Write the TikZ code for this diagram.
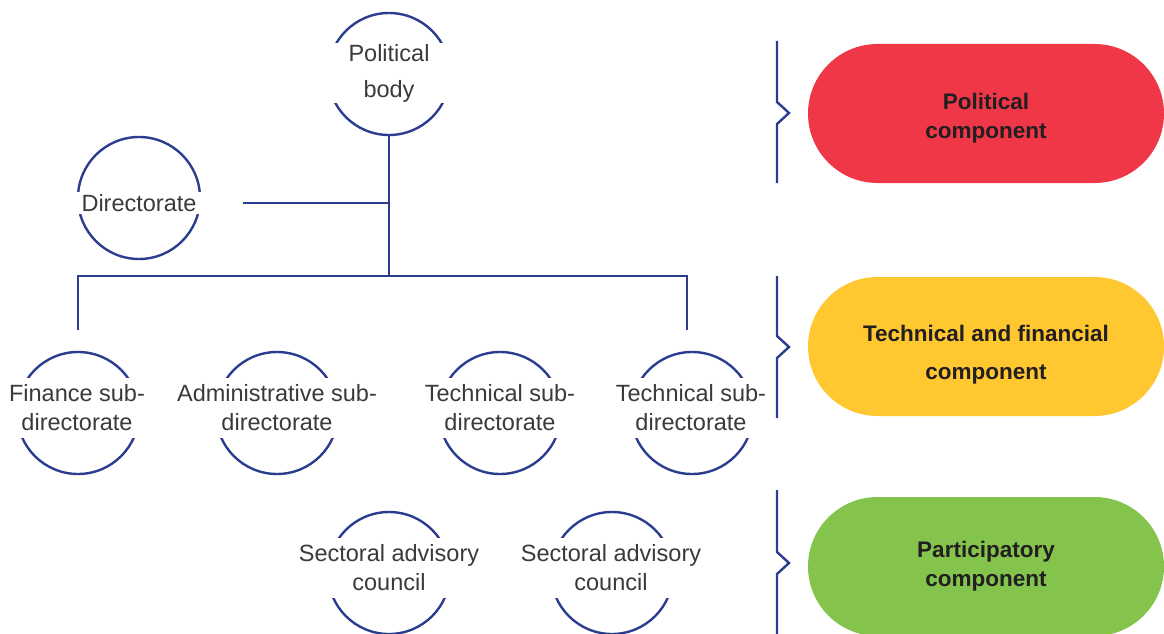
\documentclass[tikz,border=0pt]{standalone}
\usepackage{fontspec}
\setmainfont{Liberation Sans}
\usetikzlibrary{shapes.misc}
\definecolor{navy}{HTML}{2A3D8F}
\definecolor{pred}{HTML}{EF3747}
\definecolor{pyel}{HTML}{FFC730}
\definecolor{pgrn}{HTML}{84C44D}
\definecolor{tgray}{HTML}{3A3A3A}
\definecolor{tdark}{HTML}{231F20}
\begin{document}
\begin{tikzpicture}[x=1pt,y=-1pt,
  ring/.style={draw=navy,line width=2.4pt,circle,minimum size=122pt,inner sep=0pt},
  lbl/.style={fill=white,text=tgray,align=center,inner sep=1pt,minimum width=130pt,minimum height=60pt,
    font=\fontsize{23.5}{29}\selectfont},
  conn/.style={draw=navy,line width=2.4pt},
  pill/.style={rounded rectangle,minimum width=356pt,minimum height=139pt,inner sep=0pt,
    align=center,text=tdark,font=\bfseries\fontsize{22.5}{29}\selectfont}]
\useasboundingbox (0,0) rectangle (1164,634);
% circles
\node[ring] (pb) at (389,74) {};
\node[ring] (dir) at (139,198) {};
\node[ring] (fin) at (78,413) {};
\node[ring] (adm) at (277,413) {};
\node[ring] (tec1) at (500,413) {};
\node[ring] (tec2) at (692,413) {};
\node[ring] (sac1) at (389,573) {};
\node[ring] (sac2) at (612,573) {};
% labels
\node[lbl,font=\fontsize{23.5}{36}\selectfont] (pbl) at (389,73) {Political\\body};
\node[lbl,minimum height=22pt] (dirl) at (139,203) {Directorate};
\node[lbl] (finl) at (77,408) {Finance sub-\\directorate};
\node[lbl] (adml) at (277,408) {Administrative sub-\\directorate};
\node[lbl] (tec1l) at (500,408) {Technical sub-\\directorate};
\node[lbl] (tec2l) at (691,408) {Technical sub-\\directorate};
\node[lbl] (sac1l) at (389,568) {Sectoral advisory\\council};
\node[lbl] (sac2l) at (611,568) {Sectoral advisory\\council};
% connectors
\coordinate (j1) at (389,276);
\coordinate (j0) at (389,203);
\coordinate (d1) at (243,203);
\coordinate (l0) at (78,276);
\coordinate (l1) at (78,330);
\coordinate (r0) at (687,276);
\coordinate (r1) at (687,330);
\draw[conn] (pb.south) -- (j1);
\draw[conn] (d1) -- (j0);
\draw[conn] (l1) -- (l0) -- (r0) -- (r1);
% brackets
\foreach \t/\m/\b in {41/113/183, 276/347/418, 490/563/634}{
  \draw[navy,line width=2.4pt] (777,\t) -- (777,\m-11) -- (789,\m) -- (777,\m+11) -- (777,\b);
}
% pills
\node[pill,fill=pred] (pc) at (986,113.5) {};
\node[pill,fill=pyel] (tc) at (986,346.5) {};
\node[pill,fill=pgrn] (gc) at (986,566.5) {};
\node[align=center,text=tdark,font=\bfseries\fontsize{22.5}{29}\selectfont] (pct) at (986,118) {Political\\component};
\node[align=center,text=tdark,font=\bfseries\fontsize{22.5}{38}\selectfont] (tct) at (986,354.5) {Technical and financial\\component};
\node[align=center,text=tdark,font=\bfseries\fontsize{22.5}{29}\selectfont] (gct) at (986,566) {Participatory\\component};
\end{tikzpicture}
\end{document}
